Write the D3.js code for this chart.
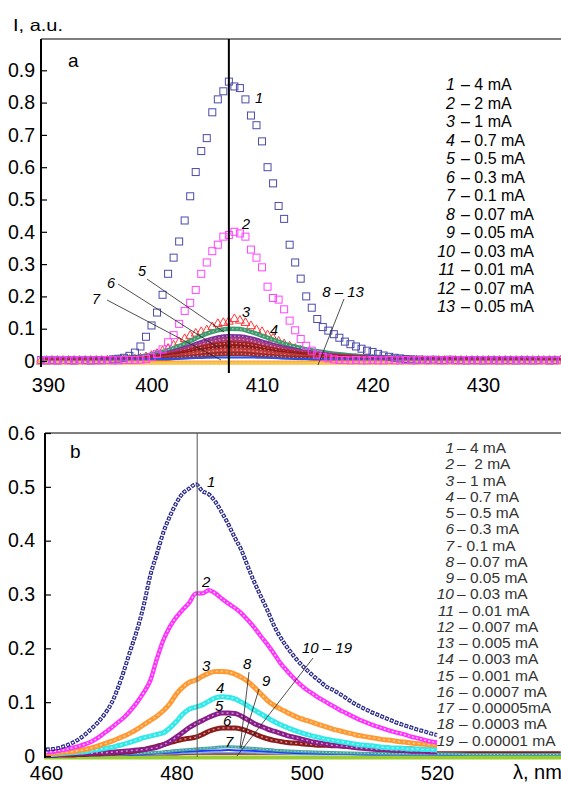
<!DOCTYPE html>
<html>
<head>
<meta charset="utf-8">
<script src="https://cdn.jsdelivr.net/npm/d3@7"></script>
<style>
body { margin: 0; background: #fff; }
text { font-family: "Liberation Sans", Arial, sans-serif; white-space: pre; }
</style>
</head>
<body>
<svg id="chart" width="561" height="785"></svg>
<script>
// ---------- panel a data (wavelength, nm / intensity, a.u.) ----------
var waveA = [
    390,390.5,391,391.5,392,392.5,393,393.5,394,394.5,
    395,395.5,396,396.5,397,397.5,398,398.5,399,399.5,
    400,400.5,401,401.5,402,402.5,403,403.5,404,404.5,
    405,405.5,406,406.5,407,407.5,408,408.5,409,409.5,
    410,410.5,411,411.5,412,412.5,413,413.5,414,414.5,
    415,415.5,416,416.5,417,417.5,418,418.5,419,419.5,
    420,420.5,421,421.5,422,422.5,423,423.5,424,424.5,
    425,425.5,426,426.5,427,427.5,428,428.5,429,429.5,
    430,430.5,431,431.5,432,432.5,433,433.5,434,434.5,
    435,435.5,436,436.5,437];
var aS1 = [
    0.003,0.002,0.003,0.002,0.003,0.003,0.002,0.003,0.003,0.002,
    0.003,0.003,0.003,0.005,0.007,0.010,0.016,0.026,0.045,0.075,
    0.11,0.15,0.205,0.27,0.32,0.37,0.435,0.51,0.585,0.65,
    0.69,0.77,0.81,0.835,0.865,0.85,0.845,0.81,0.76,0.73,
    0.68,0.60,0.55,0.48,0.44,0.36,0.305,0.255,0.20,0.165,
    0.13,0.105,0.094,0.083,0.072,0.06,0.052,0.045,0.038,0.032,
    0.028,0.022,0.017,0.013,0.010,0.008,0.006,0.005,0.004,0.004,
    0.003,0.004,0.003,0.003,0.004,0.003,0.003,0.002,0.003,0.003,
    0.002,0.003,0.003,0.002,0.003,0.003,0.002,0.003,0.003,0.002,
    0.003,0.003,0.002,0.003,0.003];
var aS2 = [
    0.002,0.003,0.002,0.002,0.003,0.002,0.002,0.003,0.002,0.002,
    0.002,0.002,0.003,0.002,0.002,0.003,0.003,0.003,0.004,0.006,
    0.012,0.022,0.036,0.058,0.08,0.115,0.155,0.18,0.22,0.27,
    0.305,0.34,0.36,0.385,0.39,0.40,0.395,0.385,0.345,0.32,
    0.29,0.23,0.195,0.19,0.16,0.125,0.095,0.068,0.047,0.032,
    0.02,0.012,0.008,0.005,0.003,0.003,0.002,0.003,0.002,0.002,
    0.003,0.002,0.002,0.003,0.002,0.002,0.003,0.002,0.002,0.003,
    0.002,0.003,0.002,0.002,0.003,0.002,0.002,0.003,0.002,0.002,
    0.003,0.002,0.002,0.003,0.002,0.002,0.003,0.002,0.002,0.003,
    0.002,0.003,0.002,0.002,0.003];
var aS3 = [
    0.001,0.001,0.001,0.001,0.001,0.001,0.001,0.001,0.001,0.001,
    0.001,0.001,0.002,0.002,0.003,0.003,0.004,0.005,0.008,0.012,
    0.016,0.022,0.03,0.038,0.048,0.058,0.068,0.078,0.085,0.09,
    0.095,0.105,0.115,0.118,0.122,0.13,0.125,0.118,0.108,0.096,
    0.09,0.08,0.07,0.06,0.052,0.045,0.038,0.032,0.027,0.022,
    0.018,0.015,0.012,0.01,0.008,0.007,0.006,0.005,0.005,0.004,
    0.004,0.003,0.003,0.003,0.002,0.002,0.002,0.002,0.002,0.002,
    0.001,0.001,0.001,0.001,0.001,0.001,0.001,0.001,0.001,0.001,
    0.001,0.001,0.001,0.001,0.001,0.001,0.001,0.001,0.001,0.001,
    0.001,0.001,0.001,0.001,0.001];

// low currents, panel a (coarser grid)
var lowWaveA = [390,393,395,396,397,398,399,400,401,402,403,404,405,406,407,408,409,410,
    411,412,413,414,415,416,417,418,419,420,422,424,427,431,437];
var aS4 = [0.004,0.005,0.006,0.007,0.009,0.011,0.014,0.02,0.028,0.04,0.053,0.07,0.085,0.095,0.10,0.099,0.09,0.078,
    0.066,0.054,0.044,0.036,0.03,0.025,0.021,0.018,0.015,0.013,0.01,0.008,0.006,0.005,0.004];
var aS5 = [0.003,0.004,0.005,0.006,0.007,0.009,0.011,0.015,0.021,0.03,0.04,0.052,0.064,0.073,0.077,0.076,0.07,0.06,
    0.05,0.041,0.034,0.028,0.023,0.019,0.016,0.014,0.012,0.011,0.009,0.007,0.005,0.004,0.003];
var aS6 = [0.003,0.003,0.004,0.005,0.006,0.008,0.01,0.013,0.018,0.026,0.035,0.046,0.056,0.064,0.068,0.067,0.062,0.053,
    0.045,0.037,0.031,0.026,0.021,0.018,0.015,0.013,0.011,0.01,0.008,0.006,0.005,0.004,0.003];
var aS7 = [0.002,0.003,0.003,0.004,0.005,0.006,0.008,0.011,0.015,0.021,0.028,0.037,0.045,0.051,0.055,0.054,0.05,0.043,
    0.036,0.03,0.025,0.021,0.018,0.015,0.013,0.011,0.01,0.009,0.007,0.005,0.004,0.003,0.002];
var aS8 = [0.002,0.002,0.003,0.003,0.004,0.005,0.006,0.009,0.012,0.017,0.023,0.03,0.036,0.041,0.044,0.043,0.04,0.035,
    0.029,0.024,0.02,0.017,0.014,0.012,0.01,0.009,0.008,0.007,0.006,0.005,0.004,0.003,0.002];
var aS9 = [0.001,0.002,0.002,0.003,0.003,0.004,0.005,0.007,0.009,0.013,0.018,0.023,0.028,0.032,0.034,0.033,0.031,0.027,
    0.022,0.019,0.016,0.013,0.011,0.009,0.008,0.007,0.006,0.006,0.005,0.004,0.003,0.002,0.001];
var aS10 = [0.001,0.001,0.002,0.002,0.002,0.003,0.004,0.005,0.006,0.009,0.012,0.015,0.018,0.021,0.022,0.022,0.02,0.017,
    0.015,0.012,0.01,0.009,0.007,0.006,0.005,0.004,0.004,0.003,0.003,0.002,0.002,0.001,0.001];
var aS11 = [0,0,0.001,0.002,0.002,0.003,0.004,0.005,0.006,0.007,0.008,0.009,0.01,0.011,0.011,0.011,0.011,0.01,
    0.009,0.008,0.007,0.006,0.005,0.005,0.004,0.004,0.003,0.003,0.002,0.002,0.001,0.001,0];
var flatWaveA = [389.5, 437];
var aS12 = [-0.005, -0.005];
var aS13 = [-0.007, -0.007];

var aTicksY = [0, 0.1, 0.2, 0.3, 0.4, 0.5, 0.6, 0.7, 0.8, 0.9];
var aTicksX = [390, 400, 410, 420, 430];
var aMarker = 407;
var aLegendNum = ["1","2","3","4","5","6","7","8","9","10","11","12","13"];
var aLegendText = ["– 4 mA","– 2 mA","– 1 mA","– 0.7 mA","– 0.5 mA","– 0.3 mA","– 0.1 mA",
    "– 0.07 mA","– 0.05 mA","– 0.03 mA","– 0.01 mA","– 0.07 mA","– 0.05 mA"];

// ---------- panel b data ----------
var waveB = [
    460,461,462,463,464,465,466,467,468,469,
    470,471,472,473,474,475,476,477,478,479,
    480,481,482,483,484,485,486,487,488,489,
    490,491,492,493,494,495,496,497,498,499,
    500,501,502,503,504,505,506,507,508,509,
    510,511,512,513,514,515,516,517,518,519,520];
var bS1 = [
    0.012,0.013,0.015,0.019,0.024,0.031,0.04,0.051,0.063,0.078,
    0.097,0.125,0.16,0.198,0.235,0.28,0.335,0.375,0.415,0.445,
    0.47,0.488,0.497,0.505,0.492,0.486,0.472,0.452,0.43,0.405,
    0.382,0.351,0.322,0.296,0.27,0.242,0.22,0.202,0.186,0.172,
    0.16,0.149,0.139,0.129,0.123,0.116,0.108,0.1,0.093,0.087,
    0.081,0.076,0.071,0.066,0.061,0.057,0.053,0.049,0.046,0.042,0.039];
var bS2 = [
    0.007,0.008,0.01,0.012,0.015,0.018,0.022,0.027,0.034,0.043,
    0.052,0.062,0.072,0.085,0.1,0.118,0.14,0.18,0.215,0.24,
    0.258,0.272,0.285,0.302,0.302,0.308,0.302,0.292,0.283,0.275,
    0.265,0.252,0.238,0.222,0.207,0.19,0.172,0.158,0.145,0.133,
    0.123,0.115,0.107,0.1,0.093,0.086,0.08,0.074,0.068,0.063,
    0.058,0.054,0.05,0.046,0.043,0.04,0.036,0.033,0.03,0.027,0.025];
var bS3 = [
    0.004,0.005,0.006,0.007,0.008,0.01,0.012,0.015,0.019,0.023,
    0.027,0.032,0.037,0.043,0.05,0.058,0.066,0.074,0.084,0.097,
    0.115,0.128,0.137,0.141,0.148,0.154,0.157,0.157,0.156,0.152,
    0.146,0.138,0.127,0.115,0.103,0.094,0.087,0.081,0.075,0.07,
    0.066,0.062,0.058,0.054,0.05,0.047,0.044,0.041,0.038,0.036,
    0.034,0.032,0.03,0.029,0.027,0.026,0.024,0.023,0.022,0.021,0.02];
var bS4 = [
    0.003,0.003,0.004,0.005,0.006,0.007,0.008,0.01,0.012,0.014,
    0.016,0.019,0.022,0.026,0.03,0.034,0.037,0.04,0.043,0.052,
    0.064,0.078,0.087,0.091,0.095,0.102,0.108,0.11,0.109,0.106,
    0.1,0.093,0.085,0.078,0.071,0.064,0.058,0.053,0.048,0.044,
    0.04,0.037,0.034,0.031,0.029,0.027,0.025,0.023,0.021,0.02,
    0.019,0.017,0.016,0.015,0.015,0.014,0.013,0.013,0.012,0.012,0.011];
var bS5 = [
    0.002,0.002,0.003,0.003,0.004,0.004,0.005,0.005,0.006,0.006,
    0.007,0.008,0.009,0.01,0.011,0.012,0.014,0.016,0.021,0.027,
    0.035,0.044,0.053,0.06,0.066,0.072,0.077,0.08,0.08,0.079,
    0.074,0.067,0.06,0.055,0.05,0.046,0.042,0.038,0.035,0.032,
    0.029,0.026,0.024,0.022,0.02,0.019,0.018,0.016,0.015,0.014,
    0.013,0.012,0.012,0.011,0.01,0.01,0.009,0.009,0.009,0.008,0.008];
var bS6 = [
    0.001,0.001,0.002,0.002,0.002,0.003,0.003,0.004,0.004,0.005,
    0.005,0.006,0.007,0.008,0.01,0.012,0.015,0.018,0.021,0.025,
    0.028,0.031,0.033,0.035,0.04,0.046,0.05,0.052,0.052,0.052,
    0.05,0.046,0.041,0.036,0.032,0.029,0.027,0.025,0.024,0.023,
    0.022,0.021,0.02,0.02,0.019,0.019,0.018,0.018,0.017,0.017,
    0.016,0.015,0.015,0.014,0.014,0.013,0.013,0.012,0.012,0.011,0.011];

var lowWaveB = [460,465,470,474,477,480,483,486,488,490,493,496,500,505,510,515,520,525,530,539];
var bS7 = [0.001,0.002,0.003,0.005,0.007,0.01,0.013,0.016,0.017,0.016,0.013,0.01,0.008,0.006,0.005,0.004,0.004,0.003,0.003,0.003];
var bS8 = [0,0.001,0.002,0.003,0.005,0.007,0.009,0.01,0.011,0.01,0.009,0.007,0.005,0.004,0.003,0.003,0.003,0.002,0.002,0.002];
var bS9 = [0,0.001,0.001,0.002,0.003,0.004,0.005,0.006,0.006,0.006,0.005,0.004,0.003,0.003,0.002,0.002,0.002,0.002,0.002,0.002];
var bS10 = [0.001,0.001,0.002,0.002,0.003,0.003,0.004,0.004,0.004,0.004,0.004,0.004,0.004,0.004,0.005,0.006,0.007,0.007,0.007,0.007];
var flatWaveB = [459, 540];
var bS11 = [-0.003, -0.003];

var bTicksY = [0, 0.1, 0.2, 0.3, 0.4, 0.5, 0.6];
var bTicksX = [460, 480, 500, 520];
var bMarker = 483.2;
var bLegendNum = ["1","2","3","4","5","6","7","8","9","10","11","12","13","14","15","16","17","18","19"];
var bLegendText = ["– 4 mA","–  2 mA","– 1 mA","– 0.7 mA","– 0.5 mA","– 0.3 mA","- 0.1 mA","– 0.07 mA",
    "– 0.05 mA","– 0.03 mA","– 0.01 mA","– 0.007 mA","– 0.005 mA","– 0.003 mA","– 0.001 mA",
    "– 0.0007 mA","– 0.00005mA","– 0.0003 mA","– 0.00001 mA"];

// ---------- drawing ----------
var svg = d3.select("#chart");

var xa = d3.scaleLinear().domain([390, 437]).range([41, 560.4]);
var ya = d3.scaleLinear().domain([0, 1]).range([361, 38]);
var xb = d3.scaleLinear().domain([460, 520]).range([46, 437]);
var yb = d3.scaleLinear().domain([0, 0.6]).range([756, 433]);

var defs = svg.append("defs");
defs.append("clipPath").attr("id", "clipA").append("rect")
    .attr("x", 36).attr("y", 39).attr("width", 525).attr("height", 334);
defs.append("clipPath").attr("id", "clipB").append("rect")
    .attr("x", 44).attr("y", 433).attr("width", 517).attr("height", 327);

function ribbon(g, wave, vals, x, y, color, w, inner) {
    var line = d3.line()
        .x(function(d) { return x(d[0]); })
        .y(function(d) { return y(d[1]); })
        .curve(d3.curveMonotoneX);
    var pts = d3.zip(wave, vals);
    g.append("path").attr("d", line(pts))
        .attr("fill", "none").attr("stroke", color).attr("stroke-width", w)
        .attr("stroke-dasharray", inner && inner.outerDash ? inner.outerDash : null);
    if (inner) {
        g.append("path").attr("d", line(pts))
            .attr("fill", "none").attr("stroke", "#fff")
            .attr("stroke-width", inner.width)
            .attr("stroke-opacity", inner.opacity)
            .attr("stroke-dasharray", inner.dash)
            .attr("stroke-dashoffset", inner.offset || 0);
    }
}

function squares(g, wave, vals, x, y, color, size) {
    g.append("g").selectAll("rect")
        .data(d3.zip(wave, vals))
        .enter().append("rect")
        .attr("x", function(d) { return x(d[0]) - size / 2; })
        .attr("y", function(d) { return y(d[1]) - size / 2; })
        .attr("width", size).attr("height", size)
        .attr("fill", "none").attr("stroke", color).attr("stroke-width", 1);
}

function triangles(g, wave, vals, x, y, color) {
    var sym = d3.symbol().type(d3.symbolTriangle).size(34);
    g.append("g").selectAll("path")
        .data(d3.zip(wave, vals))
        .enter().append("path")
        .attr("d", sym)
        .attr("transform", function(d) { return "translate(" + x(d[0]) + "," + y(d[1]) + ")"; })
        .attr("fill", "none").attr("stroke", color).attr("stroke-width", 1);
}

// ===== panel a =====
var gA = svg.append("g").attr("clip-path", "url(#clipA)");
triangles(gA, waveA, aS3, xa, ya, "#ff3535");

var lowA = [
    {vals: aS4, color: "#3f9a6e"},
    {vals: aS5, color: "#7b2f9e"},
    {vals: aS6, color: "#a8387a"},
    {vals: aS7, color: "#a41f1f"},
    {vals: aS8, color: "#8e1b1b"},
    {vals: aS9, color: "#c23a3a"},
    {vals: aS10, color: "#9c2a2a"}
];
lowA.forEach(function(s) {
    ribbon(gA, lowWaveA, s.vals, xa, ya, s.color, 4.5,
        {width: 1.3, opacity: 0.5, dash: "1.5,2.5"});
});
ribbon(gA, lowWaveA, aS11, xa, ya, "#2255ee", 2);
ribbon(gA, flatWaveA, aS12, xa, ya, "#ffa53a", 4, {width: 1.5, opacity: 0.5, dash: "2,2"});
ribbon(gA, flatWaveA, aS13, xa, ya, "#f5c64e", 2.5);

squares(gA, waveA, aS1, xa, ya, "#4b4bab", 7);
squares(gA, waveA, aS2, xa, ya, "#ff45ff", 7);

// frame & axes a
svg.append("line").attr("x1", 41).attr("x2", 561).attr("y1", 39).attr("y2", 39)
    .attr("stroke", "#555").attr("stroke-width", 1.5);
svg.append("line").attr("x1", 41).attr("x2", 41).attr("y1", 39).attr("y2", 367)
    .attr("stroke", "#000").attr("stroke-width", 2);
svg.append("line").attr("x1", xa(aMarker)).attr("x2", xa(aMarker)).attr("y1", 39).attr("y2", 373)
    .attr("stroke", "#000").attr("stroke-width", 2);

var axA = svg.append("g").attr("transform", "translate(41,0)")
    .call(d3.axisLeft(ya).tickValues(aTicksY).tickSizeInner(-6).tickSizeOuter(0).tickPadding(6)
        .tickFormat(function(d) { return d === 0 ? "0" : d.toFixed(1); }));
axA.select(".domain").remove();
axA.selectAll("text").attr("font-size", 19.5).attr("fill", "#000")
    .style("font-family", "'Liberation Sans', Arial, sans-serif");
axA.selectAll("line").attr("stroke", "#000").attr("stroke-width", 1.2);

var axAx = svg.append("g").attr("transform", "translate(0,370)")
    .call(d3.axisBottom(xa).tickValues(aTicksX).tickSize(0).tickPadding(8));
axAx.select(".domain").remove();
axAx.selectAll("text").attr("font-size", 20).attr("fill", "#000")
    .style("font-family", "'Liberation Sans', Arial, sans-serif");
axAx.selectAll(".tick").filter(function(d) { return d === 390; }).select("text").attr("dx", 7);

svg.append("text").attr("x", 13).attr("y", 31).attr("font-size", 16.5)
    .attr("textLength", 50).attr("lengthAdjust", "spacingAndGlyphs").text("I, a.u.");
svg.append("text").attr("x", 68).attr("y", 67).attr("font-size", 19).text("a");

// legend a
aLegendNum.forEach(function(n, i) {
    var yy = 90 + i * 18.5;
    svg.append("text").attr("x", 455).attr("y", yy).attr("font-size", 16)
        .attr("font-style", "italic").attr("text-anchor", "end").text(n);
    svg.append("text").attr("x", 461).attr("y", yy).attr("font-size", 16).text(aLegendText[i]);
});

// curve labels a
var aLab = [["1", 255, 103], ["2", 242, 229], ["3", 242, 317], ["4", 270, 335],
    ["5", 138, 276], ["6", 107, 288], ["7", 92, 304]];
aLab.forEach(function(l) {
    svg.append("text").attr("x", l[1]).attr("y", l[2]).attr("font-size", 14.5)
        .attr("font-style", "italic").text(l[0]);
});
svg.append("text").attr("x", 343).attr("y", 297).attr("font-size", 15)
    .attr("font-style", "italic").attr("text-anchor", "middle").text("8 – 13");
[[147, 279, 224, 332], [118, 284, 219, 348], [107, 300, 221, 360], [344, 299, 318, 365]].forEach(function(l) {
    svg.append("line").attr("x1", l[0]).attr("y1", l[1]).attr("x2", l[2]).attr("y2", l[3])
        .attr("stroke", "#222").attr("stroke-width", 0.8);
});

// ===== panel b =====
var gB = svg.append("g").attr("clip-path", "url(#clipB)");
ribbon(gB, flatWaveB, bS11, xb, yb, "#9acd32", 4);
ribbon(gB, lowWaveB, bS10, xb, yb, "#8b1a1a", 2);
ribbon(gB, lowWaveB, bS9, xb, yb, "#7fa6d6", 1.5);
ribbon(gB, lowWaveB, bS8, xb, yb, "#1a3aff", 2);
ribbon(gB, lowWaveB, bS7, xb, yb, "#45a3a3", 3, {width: 1, opacity: 0.5, dash: "1.5,2"});

var thickB = [
    {vals: bS6, color: "#8b1a1a"},
    {vals: bS5, color: "#8a1c8a"},
    {vals: bS4, color: "#33e8e8"},
    {vals: bS3, color: "#ff9a33"}
];
thickB.forEach(function(s) {
    ribbon(gB, waveB, s.vals, xb, yb, s.color, 5, {width: 1.4, opacity: 0.55, dash: "2,3"});
});
ribbon(gB, waveB, bS2, xb, yb, "#ff33ff", 4.4,
    {width: 1.4, opacity: 0.85, dash: "1.6,2.6"});
ribbon(gB, waveB, bS1, xb, yb, "#24248a", 4,
    {outerDash: "3.8,1.4", width: 1.6, opacity: 1, dash: "1.8,3.4", offset: -1});

svg.append("line").attr("x1", 45).attr("x2", 561).attr("y1", 433).attr("y2", 433)
    .attr("stroke", "#555").attr("stroke-width", 1.5);
svg.append("line").attr("x1", 45).attr("x2", 45).attr("y1", 433).attr("y2", 758)
    .attr("stroke", "#000").attr("stroke-width", 2);
svg.append("line").attr("x1", xb(bMarker)).attr("x2", xb(bMarker)).attr("y1", 433).attr("y2", 757)
    .attr("stroke", "#555").attr("stroke-width", 1);

var axB = svg.append("g").attr("transform", "translate(45,0)")
    .call(d3.axisLeft(yb).tickValues(bTicksY).tickSizeInner(-6).tickSizeOuter(0).tickPadding(10)
        .tickFormat(function(d) { return d === 0 ? "0" : d.toFixed(1); }));
axB.select(".domain").remove();
axB.selectAll("text").attr("font-size", 19.5).attr("fill", "#000")
    .style("font-family", "'Liberation Sans', Arial, sans-serif");
axB.selectAll("line").attr("stroke", "#000").attr("stroke-width", 1.2);

var axBx = svg.append("g").attr("transform", "translate(0,758)")
    .call(d3.axisBottom(xb).tickValues(bTicksX).tickSize(0).tickPadding(8));
axBx.select(".domain").remove();
axBx.selectAll("text").attr("font-size", 20).attr("fill", "#000")
    .style("font-family", "'Liberation Sans', Arial, sans-serif");

svg.append("text").attr("x", 513).attr("y", 779).attr("font-size", 20).text("λ, nm");
svg.append("text").attr("x", 70).attr("y", 458).attr("font-size", 19).text("b");

// legend b
bLegendNum.forEach(function(n, i) {
    var yy = 453 + i * 16.25;
    svg.append("text").attr("x", 454).attr("y", yy).attr("font-size", 15.5).attr("fill", "#333")
        .attr("font-style", "italic").attr("text-anchor", "end").text(n);
    svg.append("text").attr("x", i < 10 ? 457 : 459).attr("y", yy).attr("font-size", 15.5)
        .attr("fill", "#333").text(bLegendText[i]);
});

// curve labels b
var bLab = [["1", 207, 487], ["2", 202, 587], ["3", 202, 671], ["4", 216, 693], ["5", 215, 711],
    ["6", 223, 726], ["7", 225, 747], ["8", 243, 669], ["9", 262, 686]];
bLab.forEach(function(l) {
    svg.append("text").attr("x", l[1]).attr("y", l[2]).attr("font-size", 15)
        .attr("font-style", "italic").text(l[0]);
});
svg.append("text").attr("x", 327).attr("y", 653).attr("font-size", 15)
    .attr("font-style", "italic").attr("text-anchor", "middle").text("10 – 19");
[[249, 672, 240, 748], [259, 689, 241, 748], [313, 658, 237, 756]].forEach(function(l) {
    svg.append("line").attr("x1", l[0]).attr("y1", l[1]).attr("x2", l[2]).attr("y2", l[3])
        .attr("stroke", "#222").attr("stroke-width", 0.8);
});
</script>
</body>
</html>
